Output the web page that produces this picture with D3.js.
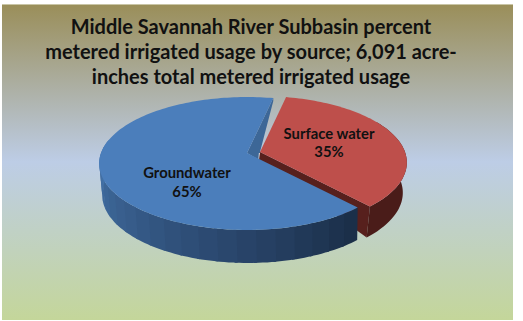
<!DOCTYPE html>
<html>
<head>
<meta charset="utf-8">
<script src="https://cdn.jsdelivr.net/npm/d3@7"></script>
<style>
  html, body { margin: 0; padding: 0; background: #fff; }
  svg { display: block; }
  text { font-family: Lato, "Open Sans", sans-serif; font-weight: 700; text-anchor: middle; fill: #111; }
</style>
</head>
<body>
<svg id="chart" width="523" height="321"></svg>
<script>
const categories = ["Surface water", "Groundwater"];
const percents = [35, 65];
const titleLines = [
  "Middle Savannah River Subbasin percent",
  "metered irrigated usage by source; 6,091 acre-",
  "inches total metered irrigated usage"
];

const svg = d3.select("#chart");
const deg = Math.PI / 180;

// Panel background with the three-stop vertical gradient
const defs = svg.append("defs");
const bg = defs.append("linearGradient").attr("id", "panel")
  .attr("x1", 0).attr("y1", 0).attr("x2", 0).attr("y2", 1);
[[0, "#9a8e59"], [0.5, "#bdcde6"], [1, "#c4d69a"]].forEach(([o, c]) =>
  bg.append("stop").attr("offset", o).attr("stop-color", c));

svg.append("rect").attr("x", 2).attr("y", 4).attr("width", 511).attr("height", 316)
  .attr("fill", "url(#panel)");
svg.append("line").attr("x1", 2).attr("x2", 513).attr("y1", 4.5).attr("y2", 4.5)
  .attr("stroke", "#c9c5a6").attr("stroke-width", 1);

svg.selectAll("text.title").data(titleLines).join("text").attr("class", "title")
  .attr("x", 251).attr("y", (d, i) => 34 + i * 25)
  .attr("font-size", 20).text(d => d);

// Pie layout, clockwise from just past twelve o'clock
const pie = d3.pie().sort(null).startAngle(12 * deg).endAngle((12 + 360) * deg);
const slices = pie(percents);

// Perspective foreshortening: the near rim of the disc is drawn larger than the far rim
const persp = 0.158;
function project(frame, angle) {
  const u = Math.sin(angle), v = -Math.cos(angle), s = 1 / (1 - persp * v);
  return [frame.cx + frame.rx * u * s, frame.cy + frame.ry * v * s];
}
const arcPoints = (frame, a0, a1, step = 1.5 * deg) => {
  const n = Math.max(1, Math.ceil((a1 - a0) / step));
  return d3.range(n + 1).map(i => project(frame, a0 + (a1 - a0) * i / n));
};
const line = d3.line();

const redTop = { cx: 260, cy: 152, rx: 145, ry: 64.8 };
const redBase = { cx: 259, cy: 182, rx: 142, ry: 66 };
const blueTop = { cx: 247, cy: 153, rx: 146, ry: 64.8 };
const blueBase = { cx: 248, cy: 184, rx: 144, ry: 66.5 };

const [red, blue] = slices;

// Blue cut face showing behind the gap between the slices
const blueEnd = project(blueTop, blue.endAngle);
svg.append("path")
  .attr("d", line([[blueTop.cx, blueTop.cy], blueEnd, [blueEnd[0], blueEnd[1] + 3],
                   [redTop.cx, redTop.cy], [redTop.cx - 1, redTop.cy + 8]]) + "Z")
  .attr("fill", "#3d6797");
svg.append("line")
  .attr("x1", redTop.cx - 0.5).attr("x2", redTop.cx - 1)
  .attr("y1", redTop.cy + 1).attr("y2", redTop.cy + 8)
  .attr("stroke", "#f2f2f2").attr("stroke-width", 1.2);

// Red slice: cut face, outer wall and top
const redTip = project(redTop, red.endAngle);
const redTipLow = project(redBase, red.endAngle);
svg.append("path")
  .attr("d", line([[redTop.cx, redTop.cy], redTip, redTipLow, [redTop.cx - 1, redTop.cy + 8]]) + "Z")
  .attr("fill", "#57201d");
svg.append("path")
  .attr("d", line(arcPoints(redTop, 60 * deg, red.endAngle)
    .concat(arcPoints(redBase, 60 * deg, red.endAngle).reverse())) + "Z")
  .attr("fill", "#4a1c19");
svg.append("path")
  .attr("d", line([[redTop.cx, redTop.cy]].concat(arcPoints(redTop, red.startAngle, red.endAngle))) + "Z")
  .attr("fill", "#be4f4b");

// Blue outer wall, drawn as narrow facets shading from dark at the front to light at the left
const wallShade = d3.scaleLinear()
  .domain([blue.startAngle, 190 * deg, 230 * deg, 278 * deg])
  .range(["#1b2f49", "#2c4a72", "#39608f", "#4677ad"])
  .interpolate(d3.interpolateRgb);
const facetStep = 6.5 * deg;
const facetStarts = d3.range(blue.startAngle, 278 * deg, facetStep);
svg.selectAll("path.facet").data(facetStarts).join("path").attr("class", "facet")
  .attr("d", a => line(arcPoints(blueTop, a, a + facetStep * 1.15)
    .concat(arcPoints(blueBase, a, a + facetStep * 1.15).reverse())) + "Z")
  .attr("fill", a => wallShade(a));

// Blue top
svg.append("path")
  .attr("d", line([[blueTop.cx, blueTop.cy]].concat(arcPoints(blueTop, blue.startAngle, blue.endAngle))) + "Z")
  .attr("fill", "#4b7ebb");

// Slice labels
const labelPos = [[329, 139, 157], [187, 178, 197]];
slices.forEach((s, i) => {
  const [x, y1, y2] = labelPos[i];
  svg.append("text").attr("x", x).attr("y", y1).attr("font-size", 14.8).text(categories[i]);
  svg.append("text").attr("x", x).attr("y", y2).attr("font-size", 14.8).text(s.data + "%");
});
</script>
</body>
</html>
